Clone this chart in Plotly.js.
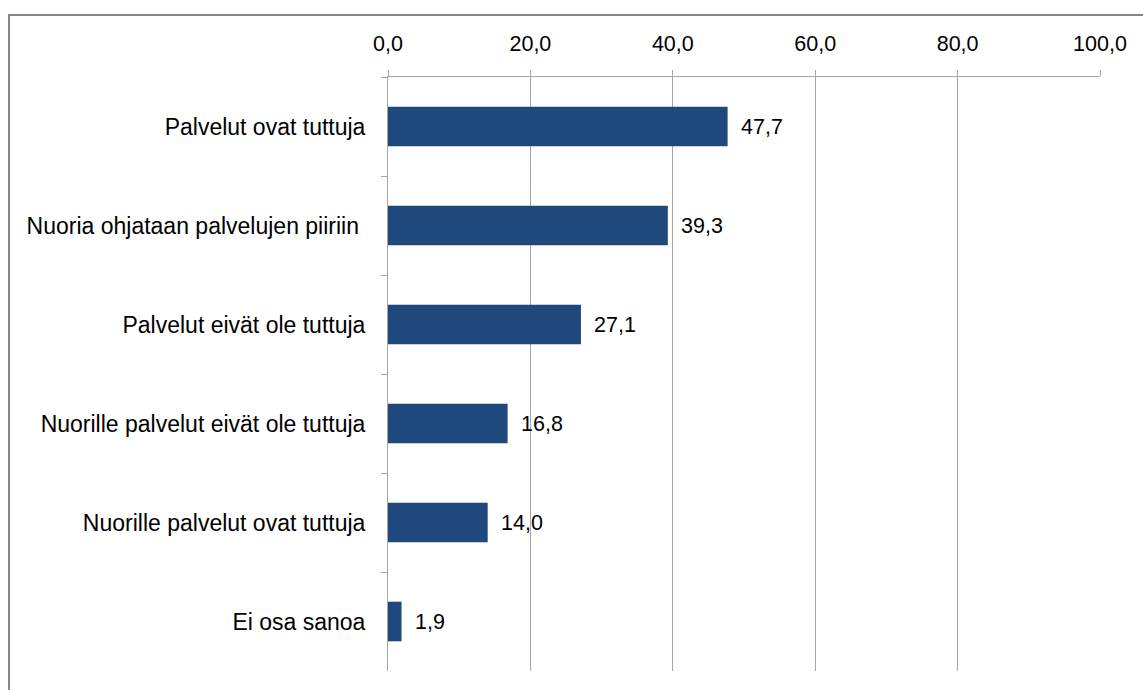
<!DOCTYPE html>
<html>
<head>
<meta charset="utf-8">
<script src="https://cdn.plot.ly/plotly-3.0.1.min.js"></script>
<style>
html,body{margin:0;padding:0;background:#fff;}
#chart{width:1143px;height:690px;}
</style>
</head>
<body>
<div id="chart"></div>
<script>
var categories = [
  "Palvelut ovat tuttuja",
  "Nuoria ohjataan palvelujen piiriin\u00a0",
  "Palvelut eivät ole tuttuja",
  "Nuorille palvelut eivät ole tuttuja",
  "Nuorille palvelut ovat tuttuja",
  "Ei osa sanoa"
];
var values = [47.7, 39.3, 27.1, 16.8, 14.0, 1.9];
var xTickValues = [0, 20, 40, 60, 80, 100];

var FONT = "Liberation Sans, Arial, sans-serif";

var trace = {
  type: "bar",
  orientation: "h",
  y: categories,
  x: values,
  width: 0.4,
  marker: {color: "#1F497D"},
  hoverinfo: "skip"
};

var annotations = values.map(function(v, i){
  return {
    x: v, y: categories[i], xref: "x", yref: "y",
    text: v.toFixed(1).replace(".", ","),
    showarrow: false, xanchor: "left", yanchor: "middle",
    xshift: 11,
    font: {family: FONT, size: 21.5, color: "#000"}
  };
});

var layout = {
  width: 1143, height: 690,
  margin: {l: 388, r: 43, t: 77, b: 19, pad: 0},
  paper_bgcolor: "#fff", plot_bgcolor: "#fff",
  separators: ", ",
  showlegend: false,
  bargap: 0.6,
  font: {family: FONT, size: 22, color: "#000"},
  xaxis: {
    side: "top",
    range: [0, 100],
    tickvals: xTickValues,
    tickformat: ".1f",
    showgrid: true, gridcolor: "#a6a6a6", gridwidth: 1,
    zeroline: false,
    showline: true, linecolor: "#a6a6a6", linewidth: 1,
    ticks: "outside", ticklen: 6, tickcolor: "#a6a6a6",
    ticklabelstandoff: 10,
    tickfont: {family: FONT, size: 21.5, color: "#000"},
    fixedrange: true
  },
  yaxis: {
    autorange: "reversed",
    type: "category",
    showgrid: false,
    zeroline: false,
    showline: true, linecolor: "#a6a6a6", linewidth: 1,
    ticks: "outside", ticklen: 6, tickcolor: "#a6a6a6",
    tickson: "boundaries",
    ticklabelstandoff: 17,
    tickfont: {family: FONT, size: 23, color: "#000"},
    fixedrange: true
  },
  annotations: annotations,
  shapes: [{
    type: "rect", xref: "paper", yref: "paper",
    x0: (9 - 388) / 712, x1: 1.2,
    y0: -0.2, y1: 1 + (77 - 15) / 594,
    line: {color: "#868686", width: 2},
    fillcolor: "rgba(0,0,0,0)",
    layer: "below"
  }]
};

Plotly.newPlot("chart", [trace], layout, {staticPlot: true, displayModeBar: false});
</script>
</body>
</html>
